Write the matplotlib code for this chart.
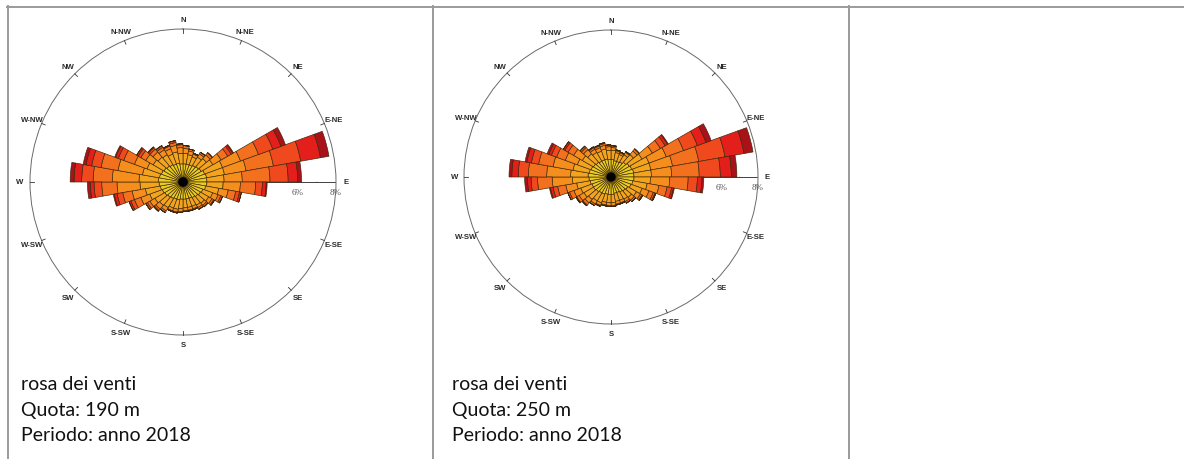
import numpy as np
import matplotlib
matplotlib.use('Agg')
import matplotlib.pyplot as plt
from matplotlib.lines import Line2D

W, H = 1184, 460

# sectors of 10 degrees, sector i spans compass [10*i, 10*i + 10]
SECTOR_START = np.arange(0, 360, 10)

# speed classes (percent of time), one list per class, 36 sectors each
# ---- panel 1: Quota 190 m
p1_c1 = [0.95, 0.95, 0.95, 1.00, 1.05, 1.10, 1.20, 1.25, 1.25, 1.25, 1.20, 1.10,
         1.05, 1.00, 0.95, 0.90, 0.90, 0.90, 0.90, 0.95, 0.95, 1.00, 1.05, 1.10,
         1.15, 1.20, 1.25, 1.30, 1.25, 1.20, 1.15, 1.10, 1.05, 1.00, 1.00, 0.95]
p1_c2 = [0.55, 0.50, 0.45, 0.50, 0.55, 0.70, 1.00, 0.95, 0.90, 0.85, 0.70, 0.55,
         0.50, 0.45, 0.45, 0.45, 0.45, 0.45, 0.50, 0.50, 0.50, 0.55, 0.55, 0.60,
         0.70, 0.80, 1.00, 1.00, 0.90, 0.80, 0.65, 0.60, 0.60, 0.55, 0.60, 0.55]
p1_c3 = [0.25, 0.20, 0.15, 0.20, 0.25, 0.50, 1.00, 1.15, 0.95, 0.90, 0.50, 0.30,
         0.20, 0.15, 0.15, 0.15, 0.15, 0.15, 0.15, 0.15, 0.15, 0.20, 0.25, 0.30,
         0.50, 0.70, 1.20, 1.40, 1.30, 0.70, 0.45, 0.35, 0.30, 0.30, 0.35, 0.30]
p1_c4 = [0.15, 0.10, 0.05, 0.10, 0.15, 0.40, 1.00, 1.45, 1.45, 0.80, 0.40, 0.15,
         0.10, 0.10, 0.10, 0.05, 0.05, 0.05, 0.05, 0.05, 0.05, 0.10, 0.10, 0.15,
         0.35, 0.50, 0.80, 1.00, 0.90, 0.60, 0.30, 0.20, 0.15, 0.15, 0.15, 0.15]
p1_c5 = [0.00, 0.00, 0.00, 0.00, 0.00, 0.20, 0.80, 1.45, 0.95, 0.35, 0.20, 0.10,
         0.05, 0.00, 0.00, 0.00, 0.00, 0.00, 0.00, 0.00, 0.00, 0.00, 0.05, 0.10,
         0.20, 0.30, 0.40, 0.60, 0.50, 0.30, 0.15, 0.10, 0.10, 0.05, 0.10, 0.05]
p1_c6 = [0.00, 0.00, 0.00, 0.00, 0.00, 0.10, 0.45, 1.05, 0.50, 0.20, 0.10, 0.00,
         0.00, 0.00, 0.00, 0.00, 0.00, 0.00, 0.00, 0.00, 0.00, 0.00, 0.00, 0.00,
         0.10, 0.15, 0.20, 0.40, 0.30, 0.15, 0.10, 0.05, 0.00, 0.00, 0.00, 0.00]
p1_c7 = [0.00, 0.00, 0.00, 0.00, 0.00, 0.05, 0.25, 0.45, 0.20, 0.05, 0.00, 0.00,
         0.00, 0.00, 0.00, 0.00, 0.00, 0.00, 0.00, 0.00, 0.00, 0.00, 0.00, 0.00,
         0.00, 0.05, 0.15, 0.20, 0.15, 0.05, 0.00, 0.00, 0.00, 0.00, 0.00, 0.00]

# ---- panel 2: Quota 250 m
p2_c1 = [0.95, 0.90, 0.90, 0.95, 1.05, 1.15, 1.20, 1.25, 1.25, 1.25, 1.20, 1.15,
         1.05, 1.00, 0.95, 0.90, 0.90, 0.95, 0.95, 0.95, 1.00, 1.00, 1.05, 1.10,
         1.10, 1.15, 1.20, 1.25, 1.20, 1.15, 1.10, 1.05, 1.00, 1.00, 1.00, 0.95]
p2_c2 = [0.50, 0.45, 0.40, 0.45, 0.55, 0.80, 1.00, 0.95, 0.95, 0.90, 0.80, 0.65,
         0.55, 0.45, 0.45, 0.45, 0.45, 0.45, 0.45, 0.45, 0.50, 0.50, 0.55, 0.60,
         0.65, 0.75, 0.90, 0.95, 0.90, 0.80, 0.70, 0.60, 0.55, 0.50, 0.55, 0.50]
p2_c3 = [0.15, 0.10, 0.10, 0.15, 0.25, 0.65, 1.00, 1.20, 1.10, 1.05, 0.65, 0.40,
         0.25, 0.20, 0.15, 0.15, 0.15, 0.15, 0.15, 0.15, 0.15, 0.20, 0.25, 0.30,
         0.40, 0.60, 1.10, 1.30, 1.10, 0.70, 0.55, 0.30, 0.20, 0.20, 0.20, 0.20]
p2_c4 = [0.10, 0.05, 0.05, 0.05, 0.15, 0.50, 1.00, 1.45, 1.50, 1.00, 0.45, 0.25,
         0.10, 0.10, 0.10, 0.05, 0.05, 0.05, 0.05, 0.05, 0.05, 0.10, 0.15, 0.15,
         0.25, 0.45, 0.80, 1.00, 0.80, 0.50, 0.35, 0.15, 0.10, 0.10, 0.10, 0.10]
p2_c5 = [0.00, 0.00, 0.00, 0.00, 0.00, 0.30, 0.80, 1.45, 1.15, 0.50, 0.25, 0.10,
         0.05, 0.00, 0.00, 0.00, 0.00, 0.00, 0.00, 0.00, 0.00, 0.00, 0.05, 0.05,
         0.10, 0.25, 0.35, 0.55, 0.40, 0.30, 0.20, 0.10, 0.05, 0.05, 0.05, 0.00]
p2_c6 = [0.00, 0.00, 0.00, 0.00, 0.00, 0.15, 0.50, 1.05, 0.60, 0.25, 0.10, 0.05,
         0.00, 0.00, 0.00, 0.00, 0.00, 0.00, 0.00, 0.00, 0.00, 0.00, 0.00, 0.00,
         0.00, 0.15, 0.20, 0.35, 0.25, 0.15, 0.10, 0.00, 0.00, 0.00, 0.00, 0.00]
p2_c7 = [0.00, 0.00, 0.00, 0.00, 0.00, 0.05, 0.30, 0.50, 0.30, 0.10, 0.05, 0.00,
         0.00, 0.00, 0.00, 0.00, 0.00, 0.00, 0.00, 0.00, 0.00, 0.00, 0.00, 0.00,
         0.00, 0.05, 0.15, 0.15, 0.10, 0.10, 0.00, 0.00, 0.00, 0.00, 0.00, 0.00]

CLASS_COLORS = ['#E9CB22', '#F3A41E', '#F58E1C', '#F3701E', '#F0491E', '#E41E1A', '#AA1219']

COMPASS = ['N', 'N-NE', 'NE', 'E-NE', 'E', 'E-SE', 'SE', 'S-SE',
           'S', 'S-SW', 'SW', 'W-SW', 'W', 'W-NW', 'NW', 'N-NW']
R_MAX = 8.0
R_LABELS = ['6%', '8%']
R_LABEL_VALUES = [6, 8]

CAPTIONS = [
    ['rosa dei venti', 'Quota: 190 m', 'Periodo: anno 2018'],
    ['rosa dei venti', 'Quota: 250 m', 'Periodo: anno 2018'],
]

# pixel geometry of each rose: centre x, centre y (from top), radius
ROSES = [(183, 183, 153), (611, 178, 147)]
CAPTION_X = [21, 452]


def draw_rose(fig, geom, classes):
    cx, cy, rad = geom
    left = (cx - rad) / W
    bottom = (H - cy - rad) / H
    ax = fig.add_axes([left, bottom, 2 * rad / W, 2 * rad / H], projection='polar')
    ax.set_theta_zero_location('N')
    ax.set_theta_direction(-1)
    ax.set_ylim(0, R_MAX)
    ax.grid(False)
    ax.set_xticks([])
    ax.set_yticks([])
    ax.spines['polar'].set_color('#6a6a6a')
    ax.spines['polar'].set_linewidth(0.7)

    theta = np.deg2rad(SECTOR_START)
    width = np.deg2rad(10)
    base = np.zeros(len(SECTOR_START))
    for vals, col in zip(classes, CLASS_COLORS):
        vals = np.asarray(vals)
        ax.bar(theta, vals, width=width, bottom=base, align='edge', color=col,
               edgecolor='#3b2608', linewidth=0.45, zorder=3)
        base = base + vals
    # dark hub where the sector edges meet
    ax.bar(0, 0.25, width=2 * np.pi, bottom=0, color='black', linewidth=0, zorder=4)

    # east axis with percent ticks
    e = np.deg2rad(90)
    ax.plot([e, e], [0, R_MAX], color='#222222', lw=0.6, zorder=2)
    for r in range(1, 8):
        ax.annotate('', xy=(e, r), xytext=(0, -2.2), textcoords='offset points',
                    arrowprops=dict(arrowstyle='-', color='#333333', lw=0.5), zorder=2)
    for lab, r in zip(R_LABELS, R_LABEL_VALUES):
        ax.annotate(lab, xy=(e, r), xytext=(0, -7.5), textcoords='offset points',
                    ha='center', va='center', fontsize=6.5, color='#555555',
                    family='Liberation Serif')

    # compass ticks and labels
    for k, name in enumerate(COMPASS):
        a = np.deg2rad(k * 22.5)
        if name != 'E':
            ax.plot([a, a], [R_MAX * 0.975, R_MAX], color='#333333', lw=0.6,
                    clip_on=False, zorder=5)
        ax.text(a, R_MAX * 1.065, name, ha='center', va='center', fontsize=5.6,
                color='#2a2a2a', family='Liberation Sans', fontweight='bold',
                clip_on=False)
    return ax


def main():
    fig = plt.figure(figsize=(W / 100, H / 100), dpi=100)
    fig.patch.set_facecolor('white')

    draw_rose(fig, ROSES[0], [p1_c1, p1_c2, p1_c3, p1_c4, p1_c5, p1_c6, p1_c7])
    draw_rose(fig, ROSES[1], [p2_c1, p2_c2, p2_c3, p2_c4, p2_c5, p2_c6, p2_c7])

    # table borders
    grey = '#9a9a9a'
    fig.add_artist(Line2D([7 / W, 1.0], [1 - 7.5 / H, 1 - 7.5 / H], color=grey, lw=1.4))
    for xv in (7.5, 432.5, 848.5):
        fig.add_artist(Line2D([xv / W, xv / W], [1 - 7 / H, 0], color=grey, lw=1.4))

    for x0, lines in zip(CAPTION_X, CAPTIONS):
        for j, txt in enumerate(lines):
            fig.text(x0 / W, 1 - (385 + 25.5 * j) / H, txt, ha='left', va='center',
                     fontsize=14, family='Lato', color='#111111')

    fig.savefig('out.png', dpi=100, facecolor='white')


if __name__ == '__main__':
    main()
